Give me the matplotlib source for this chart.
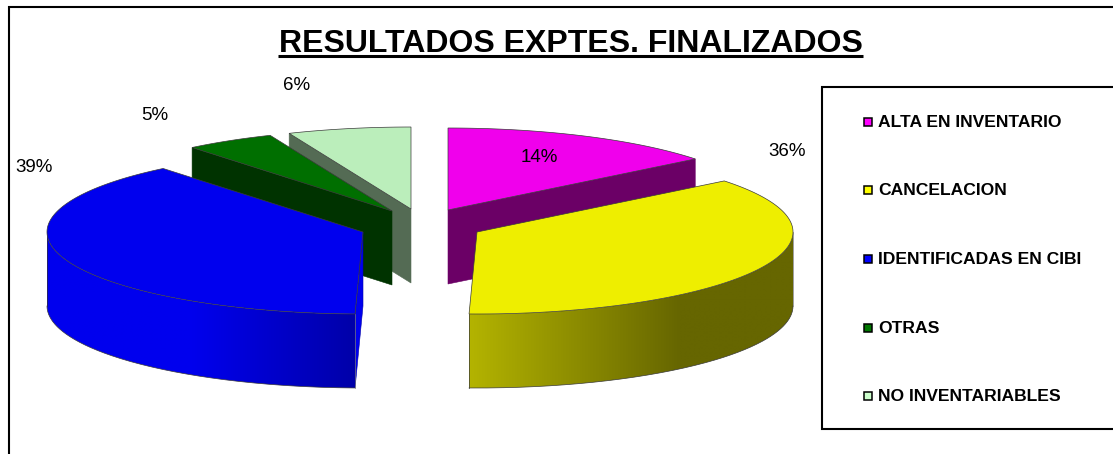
import numpy as np
import matplotlib
matplotlib.use("Agg")
import matplotlib.pyplot as plt
from matplotlib.patches import Polygon, Rectangle
from matplotlib.colors import to_rgb

# ---- data ----
categories = ["ALTA EN INVENTARIO", "CANCELACION", "IDENTIFICADAS EN CIBI", "OTRAS", "NO INVENTARIABLES"]
values = [14.3, 36.1, 38.7, 4.6, 6.3]
labels = ["14%", "36%", "39%", "5%", "6%"]
title = "RESULTADOS EXPTES. FINALIZADOS"

# ---- style / layout (pixel space) ----
top_colors = ["#F000EC", "#EEEE00", "#0000EE", "#006F00", "#BBEEBB"]
wall_colors = ["#6B0066", "#6B6B00", "#0000EE", "#003300", "#546B54"]
legend_colors = ["#FF00FF", "#FFFF00", "#0000FF", "#007700", "#CCFFCC"]
centres = [(448, 210), (477, 232), (363, 232), (392, 211), (411, 209)]
label_pos = [(539, 157), (787, 151), (34, 167), (155, 116), (297, 85)]
legend_y = [122, 190, 259, 328, 396]
RX, RY, H = 316, 82, 74
FONT = "Liberation Sans"

fig = plt.figure(figsize=(11.13, 4.54), dpi=100)
ax = fig.add_axes([0, 0, 1, 1])
ax.axis("off")

# chart frame
ax.plot([9, 9, 1113], [454, 7, 7], color="black", lw=1.5, solid_joinstyle="miter", zorder=1)


def rim(c, a):
    a = np.radians(a)
    return c[0] + RX * np.sin(a), c[1] - RY * np.cos(a)


fr = np.array(values) / sum(values) * 360
ends = np.cumsum(fr)
starts = ends - fr

EDGE = "#3a3a3a"


def wall_shade(i, x):
    if i == 1:
        t = np.interp(x, [468, 680], [0, 1])
        return (1 - t) * np.array(to_rgb("#B4B400")) + t * np.array(to_rgb("#666600"))
    if i == 2:
        t = np.interp(x, [190, 358], [0, 1])
        return (1 - t) * np.array(to_rgb("#0000EE")) + t * np.array(to_rgb("#0000A8"))
    return np.array(to_rgb(wall_colors[i]))


# back to front
order = [4, 3, 0, 2, 1]
z = 2
for i in order:
    c = centres[i]
    s, e = starts[i], ends[i]
    # radial wall of the slice that faces the viewer
    wall_angle = {0: e, 2: s, 3: s, 4: s}.get(i)
    if wall_angle is not None:
        rx, ry = rim(c, wall_angle)
        fc = wall_colors[i]
        ec = "#0000AA" if i == 2 else fc
        ax.add_patch(Polygon([c, (rx, ry), (rx, ry + H), (c[0], c[1] + H)],
                             closed=True, fc=fc, ec=ec, lw=0.4, zorder=z))
        z += 1
    # outer curved wall, shaded by a horizontal gradient clipped to the wall
    a0, a1 = max(s, 90), min(e, 270)
    if a1 > a0:
        angs = np.linspace(a0, a1, 200)
        xs, ys = map(np.array, zip(*[rim(c, a) for a in angs]))
        outline = list(zip(xs, ys)) + list(zip(xs[::-1], ys[::-1] + H))
        x_lo, x_hi = xs.min(), xs.max()
        gx = np.arange(np.floor(x_lo), np.ceil(x_hi) + 1)
        grad = np.array([[wall_shade(i, v) for v in gx]])
        im = ax.imshow(grad, extent=(gx[0], gx[-1], ys.max() + H + 1, ys.min() - 1),
                       aspect="auto", interpolation="bilinear", zorder=z)
        clip = Polygon(outline, closed=True, transform=ax.transData)
        im.set_clip_path(clip)
        z += 1
        ax.plot(xs, ys + H, color=EDGE, lw=0.5, zorder=z)
        ax.plot([xs[0], xs[0]], [ys[0], ys[0] + H], color="#777777", lw=0.5, zorder=z)
        ax.plot([xs[-1], xs[-1]], [ys[-1], ys[-1] + H], color="#333333", lw=0.5, zorder=z)
        z += 1
    # top surface
    angs = np.linspace(s, e, int(e - s) * 2 + 2)
    pts = [c] + [rim(c, a) for a in angs]
    ax.add_patch(Polygon(pts, closed=True, fc=top_colors[i], ec=EDGE, lw=0.5, zorder=z))
    z += 1

ax.set_xlim(0, 1113)
ax.set_ylim(454, 0)
ax.set_aspect("auto")

# data labels
for lab, (x, y) in zip(labels, label_pos):
    ax.text(x, y, lab, family=FONT, fontsize=13.5, ha="center", va="center", color="black", zorder=50)

# title
ax.text(571, 52, title, family=FONT, fontsize=23.0, fontweight="bold", ha="center", va="baseline", zorder=50)
ax.plot([278, 863], [55.5, 55.5], color="black", lw=2.2, solid_capstyle="butt", zorder=50)

# legend
ax.plot([1113, 822, 822, 1113], [87, 87, 429, 429], color="black", lw=1.5, solid_joinstyle="miter", zorder=40)
for name, col, y in zip(categories, legend_colors, legend_y):
    ax.add_patch(Rectangle((864, y - 4), 8, 8, fc=col, ec="black", lw=1.1, zorder=41))
    ax.text(878, y + 0.5, name, family=FONT, fontsize=12.6, fontweight="bold", ha="left", va="center", zorder=41)

fig.savefig("out.png", dpi=100)
